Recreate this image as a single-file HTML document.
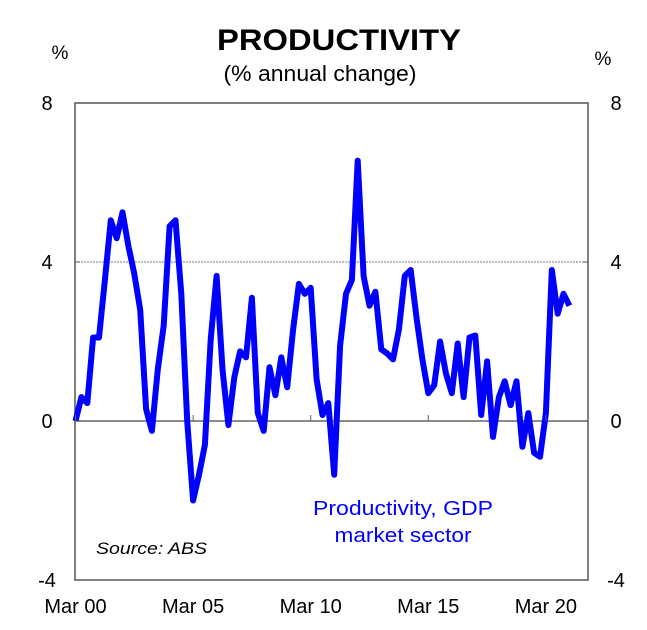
<!DOCTYPE html>
<html><head><meta charset="utf-8"><style>
body{margin:0;background:#fff;}
svg{display:block;font-family:"Liberation Sans",Arial,sans-serif;}
</style></head><body>
<svg id="chart" width="647" height="630">
<text x="339" y="50" text-anchor="middle" font-size="30" font-weight="bold" textLength="244" lengthAdjust="spacingAndGlyphs">PRODUCTIVITY</text>
<text x="320" y="81" text-anchor="middle" font-size="22" textLength="193" lengthAdjust="spacingAndGlyphs">(% annual change)</text>
<text x="60" y="59" text-anchor="middle" font-size="19">%</text>
<text x="603" y="65" text-anchor="middle" font-size="19">%</text>
<g id="grid"></g>
<rect x="75" y="103" width="513" height="477" fill="none" stroke="#555" stroke-width="1.5"/>
<g id="series"></g>
<g id="axes"></g>
<text x="403" y="515" text-anchor="middle" font-size="20" textLength="180" lengthAdjust="spacingAndGlyphs" fill="#0000ff">Productivity, GDP</text>
<text x="403" y="542" text-anchor="middle" font-size="20" textLength="137" lengthAdjust="spacingAndGlyphs" fill="#0000ff">market sector</text>
<text x="96" y="554" font-size="17" font-style="italic" textLength="111" lengthAdjust="spacingAndGlyphs">Source: ABS</text>
</svg>
<script>
const values=[0,0.6,0.45,2.1,2.1,3.55,5.05,4.6,5.25,4.4,3.7,2.8,0.3,-0.25,1.3,2.4,4.9,5.05,3.2,0,-2.0,-1.35,-0.6,2.05,3.65,1.3,-0.1,1.1,1.75,1.6,3.1,0.2,-0.25,1.35,0.65,1.6,0.85,2.3,3.45,3.2,3.35,1.05,0.15,0.45,-1.35,1.9,3.2,3.55,6.55,3.65,2.9,3.25,1.8,1.7,1.55,2.3,3.65,3.8,2.6,1.55,0.7,0.9,2.0,1.2,0.7,1.95,0.6,2.1,2.15,0.15,1.5,-0.4,0.6,1.0,0.4,1.0,-0.65,0.2,-0.8,-0.9,0.2,3.8,2.7,3.2,2.9];
const yTicks=[8,4,0,-4];
const xLabels=["Mar 00","Mar 05","Mar 10","Mar 15","Mar 20"];
const xLabelIdx=[0,20,40,60,80];
const NS="http://www.w3.org/2000/svg";
const x0=75.5,dx=5.88;
function xs(i){return x0+i*dx;}
function ys(v){return 421-v*39.75;}
function mk(t,a,p){const e=document.createElementNS(NS,t);for(const k in a)e.setAttribute(k,a[k]);p.appendChild(e);return e;}
const grid=document.getElementById('grid'),axes=document.getElementById('axes'),ser=document.getElementById('series');
yTicks.forEach(v=>{
  if(v===4){const l=mk('line',{x1:75,x2:588,y1:ys(v),y2:ys(v),stroke:'#777','stroke-dasharray':'2,1'},grid);
    
    }
  let t=mk('text',{x:47,y:ys(v)+7,'text-anchor':'middle','font-size':20},axes);t.textContent=v;
  
  
  t=mk('text',{x:616,y:ys(v)+7,'text-anchor':'middle','font-size':20},axes);t.textContent=v;
  
  
  mk('line',{x1:75,x2:80,y1:ys(v),y2:ys(v),stroke:'#555'},axes);
  mk('line',{x1:583,x2:588,y1:ys(v),y2:ys(v),stroke:'#555'},axes);
});
const zl=mk('line',{x1:75,x2:588,y1:ys(0),y2:ys(0),stroke:'#666','stroke-width':1.5},grid);


xLabelIdx.forEach((idx,k)=>{
  const x=xs(idx);
  mk('line',{x1:x,x2:x,y1:ys(0),y2:ys(0)-6,stroke:'#666'},axes);
  const t=mk('text',{x:x,y:613,'text-anchor':'middle','font-size':20},axes);t.textContent=xLabels[k];
  
  
});
const pts=values.map((v,i)=>xs(i).toFixed(1)+','+ys(v).toFixed(1)).join(' ');
const pl=mk('polyline',{points:pts,fill:'none',stroke:'#0000ff','stroke-width':6,'stroke-linejoin':'round'},ser);


</script>
</body></html>
